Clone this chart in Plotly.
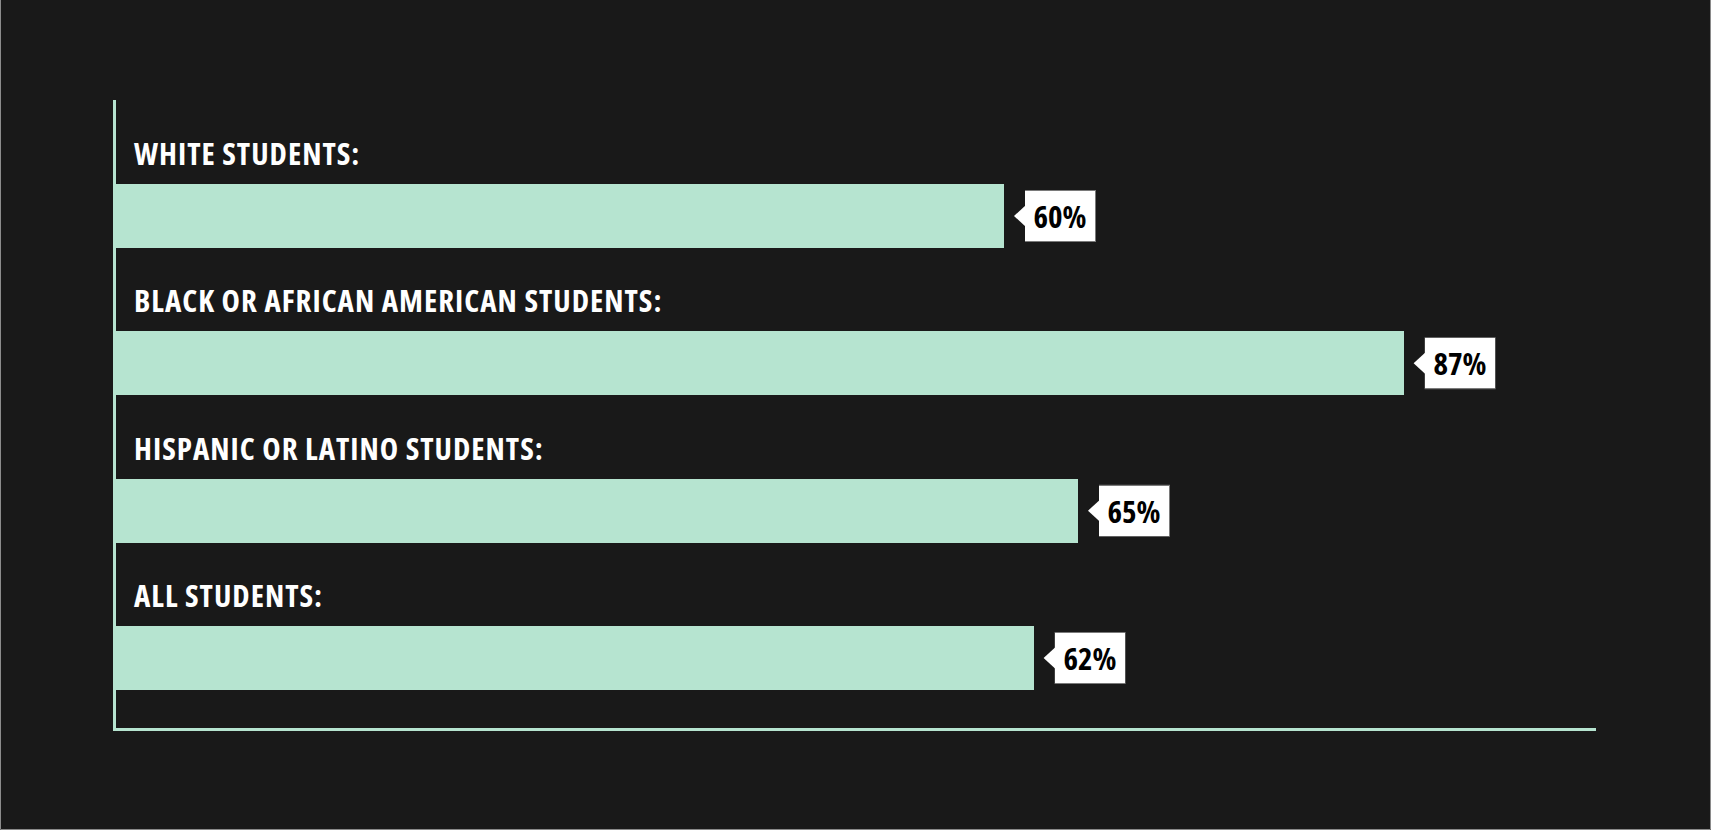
import plotly.graph_objects as go

# ---- data ----
categories = [
    "WHITE STUDENTS:",
    "BLACK OR AFRICAN AMERICAN STUDENTS:",
    "HISPANIC OR LATINO STUDENTS:",
    "ALL STUDENTS:",
]
values = [60, 87, 65, 62]
value_labels = ["60%", "87%", "65%", "62%"]

# ---- style ----
BG = "#191919"
MINT = "#b6e4d0"
FONT = "Open Sans"
LABEL_STYLE = "font-stretch:75%;letter-spacing:1px"
VALUE_STYLE = "font-stretch:75%"

positions = list(range(len(categories)))

fig = go.Figure()
fig.add_trace(go.Bar(
    x=values,
    y=positions,
    orientation="h",
    width=0.434,
    marker=dict(color=MINT, line=dict(width=0)),
    hoverinfo="skip",
    showlegend=False,
))

annotations = []
shapes = []
for pos, cat, val, lab in zip(positions, categories, values, value_labels):
    # category label above bar
    annotations.append(dict(
        x=0, y=pos, xref="x", yref="y",
        xanchor="left", yanchor="bottom",
        xshift=16, yshift=40,
        text='<span style="%s">%s</span>' % (LABEL_STYLE, cat),
        showarrow=False,
        font=dict(family=FONT, size=31, color="#ffffff", weight="bold"),
        align="left",
    ))
    # value callout box
    shapes.append(dict(
        type="rect", xref="x", yref="y",
        xsizemode="pixel", ysizemode="pixel",
        xanchor=val, yanchor=pos,
        x0=21, x1=92, y0=-26, y1=26,
        fillcolor="#7a7a7a", line=dict(width=0), layer="above",
    ))
    shapes.append(dict(
        type="path", xref="x", yref="y",
        xsizemode="pixel", ysizemode="pixel",
        xanchor=val, yanchor=pos,
        path="M 10,0 L 22,-11 L 22,11 Z",
        fillcolor="#ffffff", line=dict(width=0), layer="above",
    ))
    annotations.append(dict(
        x=val, y=pos, xref="x", yref="y",
        xanchor="left", yanchor="middle",
        xshift=21,
        width=70, height=50,
        borderpad=0, borderwidth=0,
        bgcolor="#ffffff",
        text='<span style="%s">%s</span>' % (VALUE_STYLE, lab),
        showarrow=False,
        font=dict(family=FONT, size=31, color="#000000", weight="bold"),
        align="center", valign="middle",
    ))

# thin page border (left, right, bottom)
border = dict(xref="paper", yref="paper", line=dict(color="#8c8c8c", width=1))
shapes.append(dict(type="line", x0=-0.07804, x1=-0.07804, y0=-0.16162, y1=1.2, **border))
shapes.append(dict(type="line", x0=1.07736, x1=1.07736, y0=-0.16162, y1=1.2, **border))
shapes.append(dict(type="line", x0=-0.07804, x1=1.07736, y0=-0.16162, y1=-0.16162, **border))

fig.update_layout(
    width=1711, height=830,
    paper_bgcolor=BG, plot_bgcolor=BG,
    margin=dict(l=116, r=115, t=100, b=102),
    bargap=0,
    xaxis=dict(
        range=[0, 100], showgrid=False, zeroline=False,
        showticklabels=False, ticks="",
        showline=True, linecolor=MINT, linewidth=3,
        fixedrange=True,
    ),
    yaxis=dict(
        range=[3.475, -0.787], showgrid=False, zeroline=False,
        showticklabels=False, ticks="",
        showline=True, linecolor=MINT, linewidth=3,
        fixedrange=True,
    ),
    annotations=annotations,
    shapes=shapes,
)

fig.write_html(
    "out.html",
    config={"displayModeBar": False},
    post_script="document.body.style.margin='0';document.body.style.background='%s';" % BG,
)
